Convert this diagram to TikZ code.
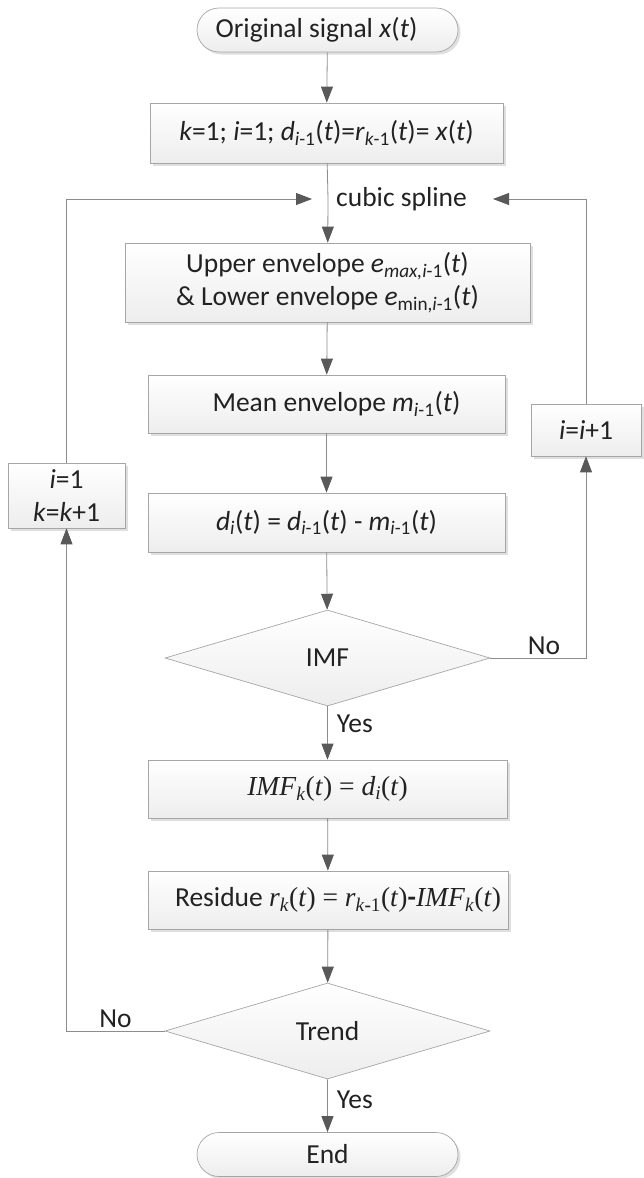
\documentclass[tikz,border=0pt]{standalone}
\usepackage{fontspec}
\setmainfont{Carlito}
\newfontfamily\timesf{Liberation Serif}
\usepackage{xcolor}
\usetikzlibrary{shapes,arrows.meta,positioning,calc,shadows}
\definecolor{edgegray}{HTML}{A6A6A6}
\definecolor{wiregray}{HTML}{8C8C8C}
\definecolor{tipgray}{HTML}{595959}
\definecolor{inkgray}{HTML}{222222}
\newcommand{\iv}[1]{\textit{#1}}
\newcommand{\sbs}[1]{\textsubscript{#1}}
\newcommand{\tms}[1]{{\timesf #1}}

\begin{document}
\begin{tikzpicture}[x=1pt,y=-1pt,
    every node/.style={text=inkgray, font=\fontsize{27.5}{33}\selectfont},
    procbox/.style={draw=edgegray, line width=0.7pt, top color=white, bottom color=black!7,
        align=center, inner sep=0pt,
        drop shadow={shadow xshift=2.5pt, shadow yshift=-2.5pt, fill=black!25, opacity=0.5}},
    termbox/.style={procbox, rounded rectangle, minimum width=261pt, minimum height=44pt},
    testbox/.style={draw=edgegray, line width=0.7pt, top color=white, bottom color=black!7,
        diamond, inner sep=0pt, minimum width=325pt, minimum height=96pt},
    lbl/.style={inner sep=3pt},
    wire/.style={draw=wiregray, line width=0.8pt},
    arr/.style={wire, -{Triangle[length=16pt,width=12pt,color=tipgray,fill=tipgray]}}]
    \useasboundingbox (0,0) rectangle (643,1178);
    % main column
    \node[termbox] (start) at (327.5,30) {Original signal \iv{x}(\iv{t})\hspace*{22pt}};
    \node[procbox, minimum width=353pt, minimum height=60pt] (init) at (326.5,133)
        {\iv{k}=1; \iv{i}=1; \iv{d}\sbs{\iv{i}-1}(\iv{t})=\iv{r}\sbs{\iv{k}-1}(\iv{t})= \iv{x}(\iv{t})};
    \node[procbox, minimum width=405pt, minimum height=79pt] (env) at (327.5,282.5)
        {Upper envelope \iv{e}\sbs{\iv{max,i}-1}(\iv{t})\\
         \& Lower envelope \iv{e}\sbs{min,\iv{i}-1}(\iv{t})};
    \node[procbox, minimum width=357pt, minimum height=58pt] (mean) at (326.5,404)
        {\hspace*{20pt}Mean envelope \iv{m}\sbs{\iv{i}-1}(\iv{t})};
    \node[procbox, minimum width=357pt, minimum height=59pt] (diff) at (326.5,522.5)
        {\iv{d}\sbs{\iv{i}}(\iv{t}) = \iv{d}\sbs{\iv{i}-1}(\iv{t}) - \iv{m}\sbs{\iv{i}-1}(\iv{t})};
    \node[testbox] (imf) at (327.5,658) {IMF};
    \node[procbox, minimum width=359pt, minimum height=58pt] (keep) at (327.5,789)
        {\tms{\iv{IMF}\sbs{\iv{k}}(\iv{t}) = \iv{d}\sbs{\iv{i}}(\iv{t})}};
    \node[procbox, minimum width=360pt, minimum height=58pt] (resid) at (328,900)
        {\hspace*{20pt}Residue \tms{\iv{r}\sbs{\iv{k}}(\iv{t}) = \iv{r}\sbs{\iv{k}\textbf{-}1}(\iv{t})}\textbf{-}\tms{\iv{IMF}\sbs{\iv{k}}(\iv{t})}};
    \node[testbox] (trend) at (327.5,1031) {Trend};
    \node[termbox] (stop) at (327.5,1154.5) {End};
    % side boxes
    \node[procbox, minimum width=117pt, minimum height=65pt] (nextk) at (66.5,495.5)
        {\iv{i}=1\\\iv{k}=\iv{k}+1};
    \node[procbox, minimum width=110pt, minimum height=52pt] (nexti) at (586,430)
        {\iv{i}=\iv{i}+1};
    % spline join
    \coordinate (join) at (328,199);
    \coordinate (splL) at (312,199);
    \coordinate (splR) at (493,199);
    \node[lbl, anchor=west] (spline) at (333,199) {cubic spline};
    % connectors
    \draw[arr] (start) -- (init);
    \draw[arr] (init) -- (join) -- (env);
    \draw[arr] (env) -- (mean);
    \draw[arr] (mean) -- (diff);
    \draw[arr] (diff) -- (imf);
    \draw[arr] (imf.south) -- node[lbl, right, pos=0.32, xshift=6pt] {Yes} (keep);
    \draw[arr] (keep) -- (resid);
    \draw[arr] (resid) -- (trend);
    \draw[arr] (trend.south) -- node[lbl, right, pos=0.38, xshift=6pt] {Yes} (stop);
    % loops
    \draw[arr] (imf.east) -- node[lbl, above, pos=0.56] {No} (nexti.south |- imf.east) -- (nexti.south);
    \draw[arr] (nexti.north) |- (splR);
    \draw[arr] (trend.west) -- node[lbl, above, pos=0.5] {No} (nextk.south |- trend.west) -- (nextk.south);
    \draw[arr] (nextk.north) |- (splL);
\end{tikzpicture}
\end{document}
